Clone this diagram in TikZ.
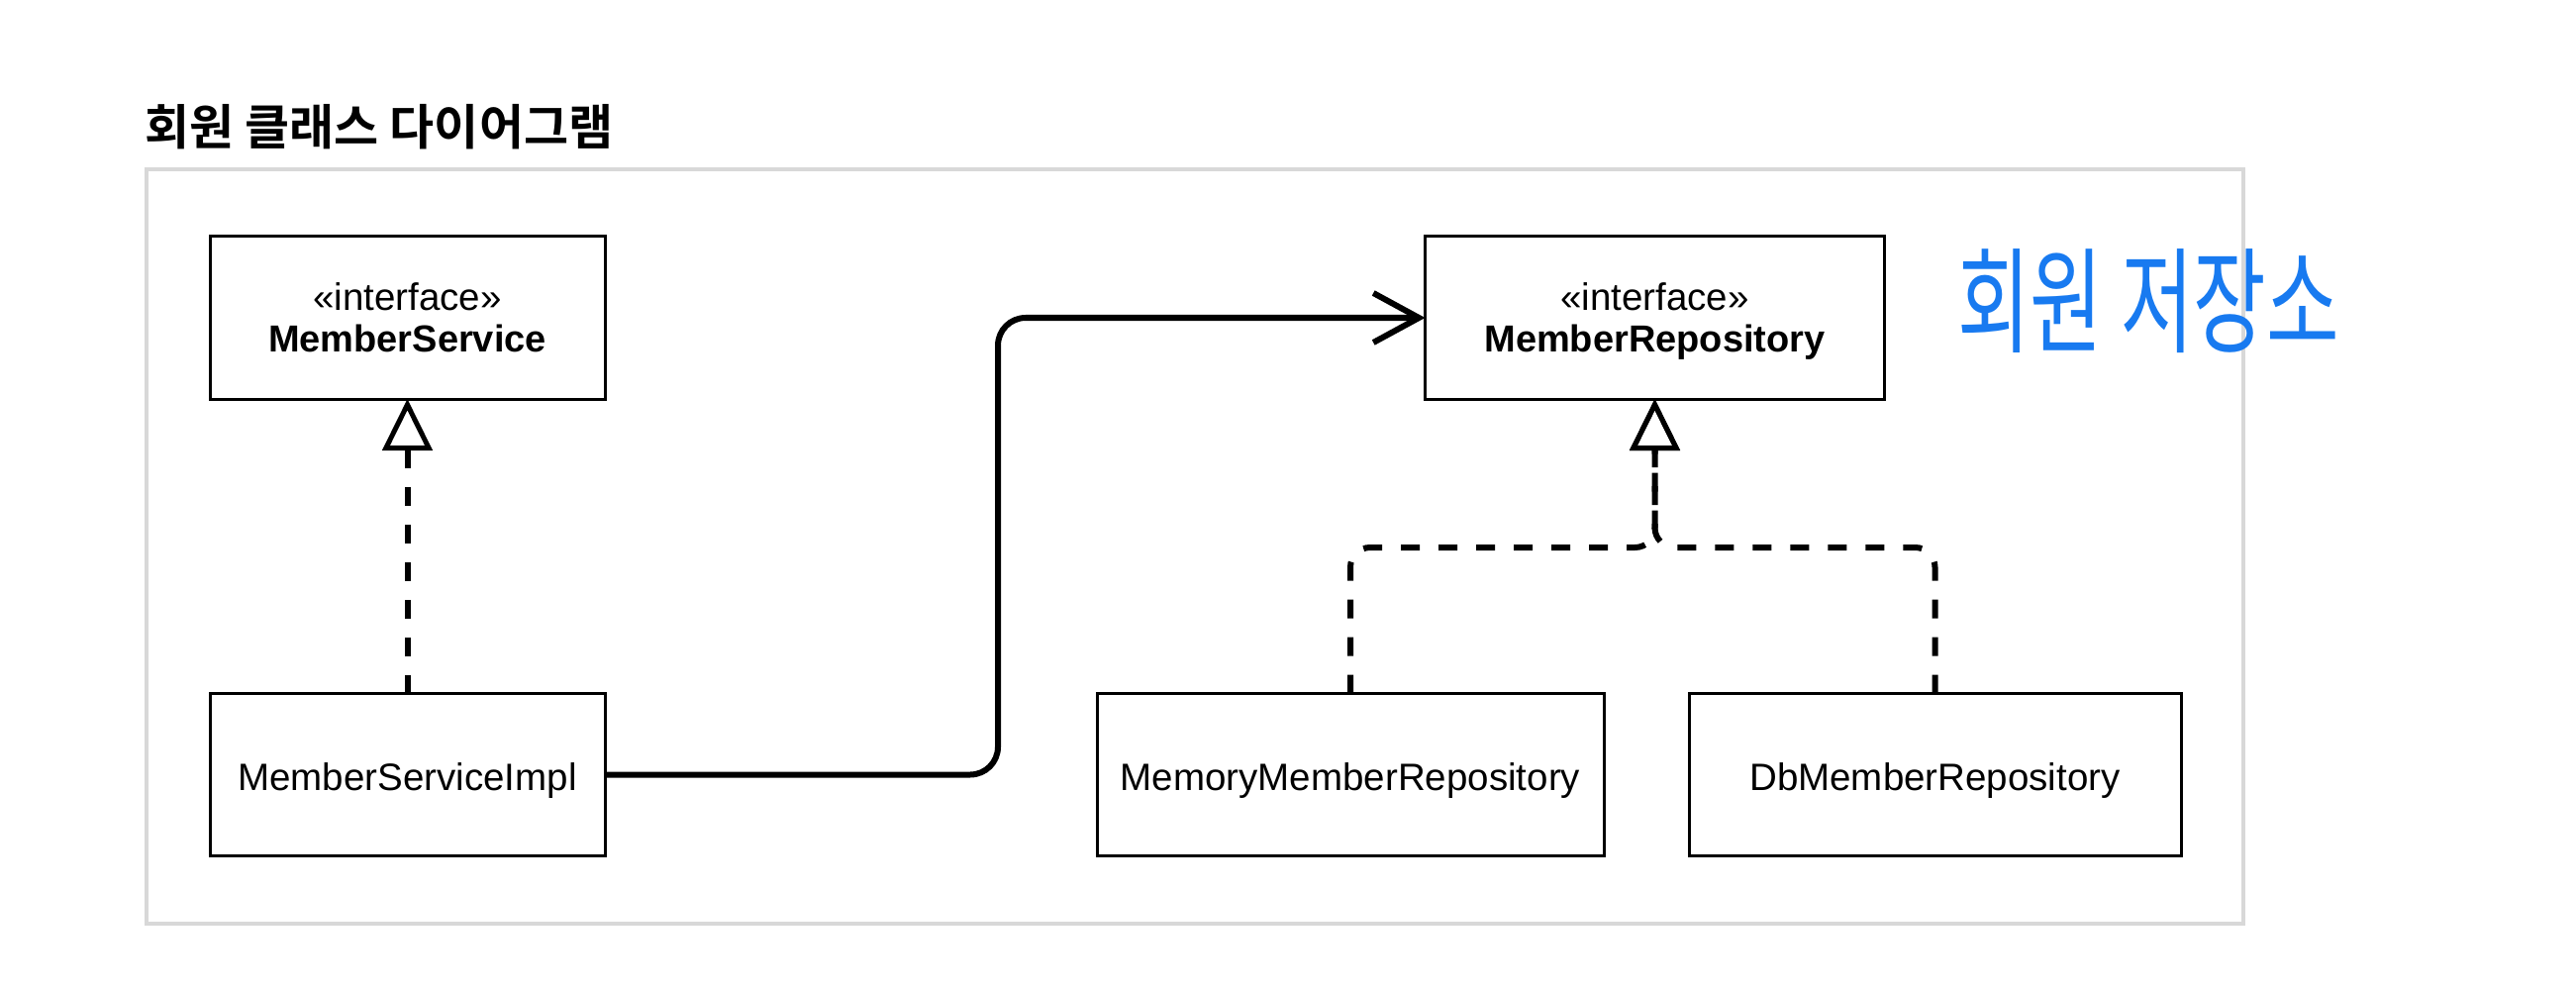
\documentclass[tikz,border=0pt]{standalone}
\usepackage{fontspec}
\setmainfont{Liberation Sans}
\newfontfamily\krfont{Noto Sans CJK KR}[BoldFont={Noto Sans CJK KR Bold}]
\usetikzlibrary{arrows.meta}

\definecolor{framegray}{RGB}{216,216,216}
\definecolor{penblue}{RGB}{24,122,240}

\begin{document}
\begin{tikzpicture}[x=1pt,y=-1pt,
  umlbox/.style={draw=black, line width=3pt, fill=white, inner sep=0pt, outer sep=0pt, minimum height=164pt},
  txt/.style={font=\fontsize{38.5}{44}\selectfont, inner sep=0pt, anchor=base},
  txtbold/.style={txt, font=\fontsize{38}{44}\selectfont\bfseries},
  impl/.style={line width=6pt, dash pattern=on 19pt off 19pt, rounded corners=20pt,
    -{Triangle[open, length=52pt, width=50pt, line width=5pt]}},
  assoc/.style={line width=6pt, rounded corners=28pt,
    -{Straight Barb[length=46pt, width=50pt, line width=6pt]}}
]
\useasboundingbox (0,0) rectangle (2602,1000);

% outer frame and heading
\draw[framegray, line width=4pt] (148,171) rectangle (2266,933);
\node[anchor=base west, inner sep=0pt, font=\krfont\bfseries\fontsize{49}{56}\selectfont] (title) at (146,147) {회원 클래스 다이어그램};

% class boxes
\node[umlbox, minimum width=399pt] (ms)  at (411.5,321) {};
\node[umlbox, minimum width=464pt] (mr)  at (1671.5,321) {};
\node[umlbox, minimum width=399pt] (msi) at (411.5,782.5) {};
\node[umlbox, minimum width=512pt] (mmr) at (1364,782.5) {};
\node[umlbox, minimum width=497pt] (db)  at (1954.5,782.5) {};

% class names
\node[txt] (msst) at ([yshift=7pt]ms.center) {«interface»};
\node[txtbold] (msname) at ([yshift=-34pt]ms.center) {MemberService};
\node[txt] (mrst) at ([yshift=7pt]mr.center) {«interface»};
\node[txtbold] (mrname) at ([yshift=-34pt]mr.center) {MemberRepository};
\node[txt] (msiname) at ([yshift=-16pt]msi.center) {MemberServiceImpl};
\node[txt] (mmrname) at ([yshift=-16pt]mmr.center) {MemoryMemberRepository};
\node[txt] (dbname) at ([yshift=-16pt]db.center) {DbMemberRepository};

% realization (dashed, hollow triangle)
\coordinate (jn) at (1671.5,553);
\draw[impl] (msi.north) -- (ms.south);
\draw[impl] (mmr.north) |- (jn) -- (mr.south);
\draw[impl] (db.north) |- (jn) -- (mr.south);

% association (solid, open head)
\coordinate (bend) at (1008,550);
\draw[assoc] (msi.east) -| (bend) |- (mr.west);

% hand-written note
\node[text=penblue, inner sep=0pt, font=\krfont\fontsize{80}{90}\selectfont] (note) at (2170,304) {\scalebox{1}[1.45]{회원 저장소}};
\end{tikzpicture}
\end{document}
